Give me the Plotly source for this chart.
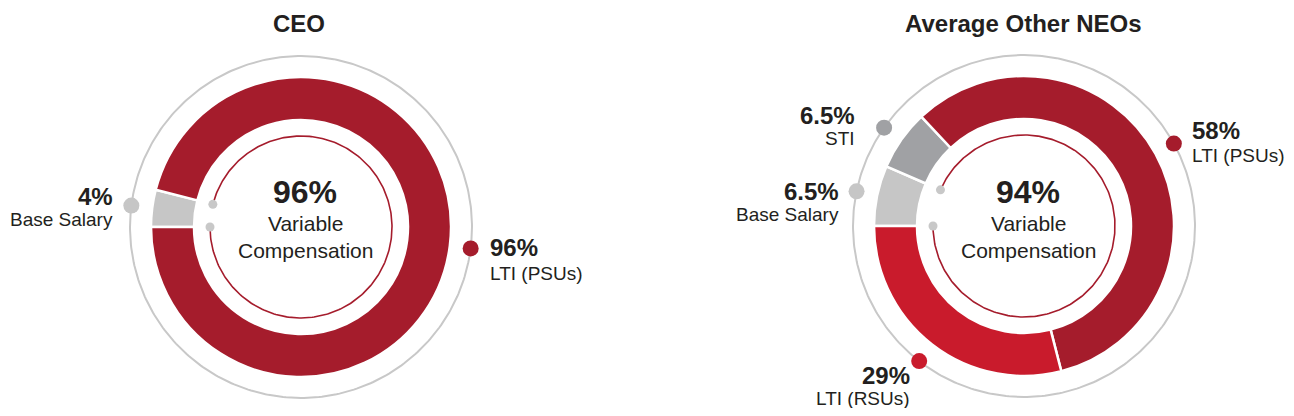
import numpy as np
import plotly.graph_objects as go

# ---------------- data ----------------
titles = ["CEO", "Average Other NEOs"]
ceo_labels = ["Base Salary", "LTI (PSUs)"]
ceo_values = [4, 96]
ceo_pct_text = ["4%", "96%"]
neo_labels = ["Base Salary", "STI", "LTI (PSUs)", "LTI (RSUs)"]
neo_values = [6.5, 6.5, 58, 29]
neo_pct_text = ["6.5%", "6.5%", "58%", "29%"]
variable_pct_text = ["96%", "94%"]
center_caption = "Variable<br>Compensation"

# ---------------- style ----------------
WIN_W, WIN_H = 1294, 416
OFF = 8  # page body margin around the figure
W, H = WIN_W - 2 * OFF, WIN_H - 2 * OFF  # figure fits the window without overflow
DARK_RED = "#a51c2c"
RED = "#c91b2c"
STI_GRAY = "#a0a1a4"
BASE_GRAY = "#c6c6c6"
RING_GRAY = "#c8c8c8"
TXT = "#231f20"
FONT = "Liberation Sans, Arial, sans-serif"

ceo_colors = [BASE_GRAY, DARK_RED]
neo_colors = [BASE_GRAY, STI_GRAY, DARK_RED, RED]

charts = [
    dict(title=titles[0], labels=ceo_labels, values=ceo_values, pct=ceo_pct_text,
         colors=ceo_colors, vpct=variable_pct_text[0], cx=301, cy=227,
         # label placement (side, dx, dy_pct, dy_label) relative to the dot
         place=[("left", -17, -8.6, 14.4), ("right", 18, -1.4, 24.6)],
         title_x=299, center_x=305),
    dict(title=titles[1], labels=neo_labels, values=neo_values, pct=neo_pct_text,
         colors=neo_colors, vpct=variable_pct_text[1], cx=1024, cy=226,
         place=[("left", -17, 0.4, 23.2), ("left", -28, -12, 11),
                ("right", 17, -13, 11.4), ("left", -8, 14, 37.5)],
         title_x=1023.5, center_x=1028),
]

R_RING = 171
R_OUT = 150
R_IN = 107
R_THIN = 91
START = 270  # first slice starts at 9 o'clock, going clockwise

fig = go.Figure()


def pt(cx, cy, r, a_deg):
    a = np.radians(a_deg)
    return cx + r * np.sin(a), cy - r * np.cos(a)


annotations = []
for ch in charts:
    cx, cy = ch["cx"], ch["cy"]
    vals = np.array(ch["values"], dtype=float)
    tot = vals.sum()
    # donut via pie, domain computed in paper coords of the figure
    fx, fy = cx - OFF, cy - OFF
    fig.add_trace(go.Pie(
        values=ch["values"], labels=ch["labels"], sort=False, direction="clockwise",
        rotation=START, hole=R_IN / R_OUT, textinfo="none", hoverinfo="label+value",
        marker=dict(colors=ch["colors"], line=dict(color="white", width=2.5)),
        domain=dict(x=[(fx - R_OUT) / W, (fx + R_OUT) / W],
                    y=[1 - (fy + R_OUT) / H, 1 - (fy - R_OUT) / H]),
        showlegend=False))

    # outer thin gray ring
    a = np.linspace(0, 360, 361)
    x, y = pt(cx, cy, R_RING, a)
    fig.add_trace(go.Scatter(x=x, y=y, mode="lines", line=dict(color=RING_GRAY, width=2),
                             hoverinfo="skip", showlegend=False))

    # inner thin red arc over variable portion (everything after base salary)
    a0 = START + vals[0] / tot * 360
    a1 = START + 360
    a = np.linspace(a0, a1, 300)
    x, y = pt(cx, cy, R_THIN, a)
    fig.add_trace(go.Scatter(x=x, y=y, mode="lines", line=dict(color=DARK_RED, width=1.6),
                             hoverinfo="skip", showlegend=False))
    ex, ey = pt(cx, cy, R_THIN, np.array([a0, a1]))
    fig.add_trace(go.Scatter(x=ex, y=ey, mode="markers",
                             marker=dict(color=RING_GRAY, size=9),
                             hoverinfo="skip", showlegend=False))

    # label dots at slice mid angles on the outer ring
    cum = np.cumsum(vals) - vals / 2
    mids = START + cum / tot * 360
    dx_, dy_ = pt(cx, cy, R_RING, mids)
    fig.add_trace(go.Scatter(x=dx_, y=dy_, mode="markers",
                             marker=dict(color=ch["colors"], size=16),
                             hoverinfo="skip", showlegend=False))

    for i, (side, ox, opy, oly) in enumerate(ch["place"]):
        anchor = "right" if side == "left" else "left"
        annotations.append(dict(x=dx_[i] + ox, y=dy_[i] + opy, text="<b>%s</b>" % ch["pct"][i],
                                xanchor=anchor, yanchor="middle", showarrow=False, borderpad=0,
                                font=dict(size=24, color=TXT, family=FONT)))
        annotations.append(dict(x=dx_[i] + ox, y=dy_[i] + oly, text=ch["labels"][i],
                                xanchor=anchor, yanchor="middle", showarrow=False, borderpad=0,
                                font=dict(size=19, color=TXT, family=FONT)))

    # center texts
    annotations.append(dict(x=ch["center_x"], y=192, text="<b>%s</b>" % ch["vpct"],
                            xanchor="center", yanchor="middle", showarrow=False,
                            font=dict(size=32, color=TXT, family=FONT)))
    annotations.append(dict(x=ch["center_x"], y=236.5, text=center_caption,
                            xanchor="center", yanchor="middle", showarrow=False, align="center",
                            font=dict(size=21, color=TXT, family=FONT)))
    # title
    annotations.append(dict(x=ch["title_x"], y=23, text="<b>%s</b>" % ch["title"],
                            xanchor="center", yanchor="middle", showarrow=False, borderpad=0,
                            font=dict(size=24, color=TXT, family=FONT)))

fig.update_layout(
    width=W, height=H, margin=dict(l=0, r=0, t=0, b=0),
    paper_bgcolor="white", plot_bgcolor="white",
    xaxis=dict(range=[OFF, OFF + W], visible=False, fixedrange=True, domain=[0, 1]),
    yaxis=dict(range=[OFF + H, OFF], visible=False, fixedrange=True, domain=[0, 1]),
    annotations=annotations, showlegend=False,
)

fig.write_html("out.html")
